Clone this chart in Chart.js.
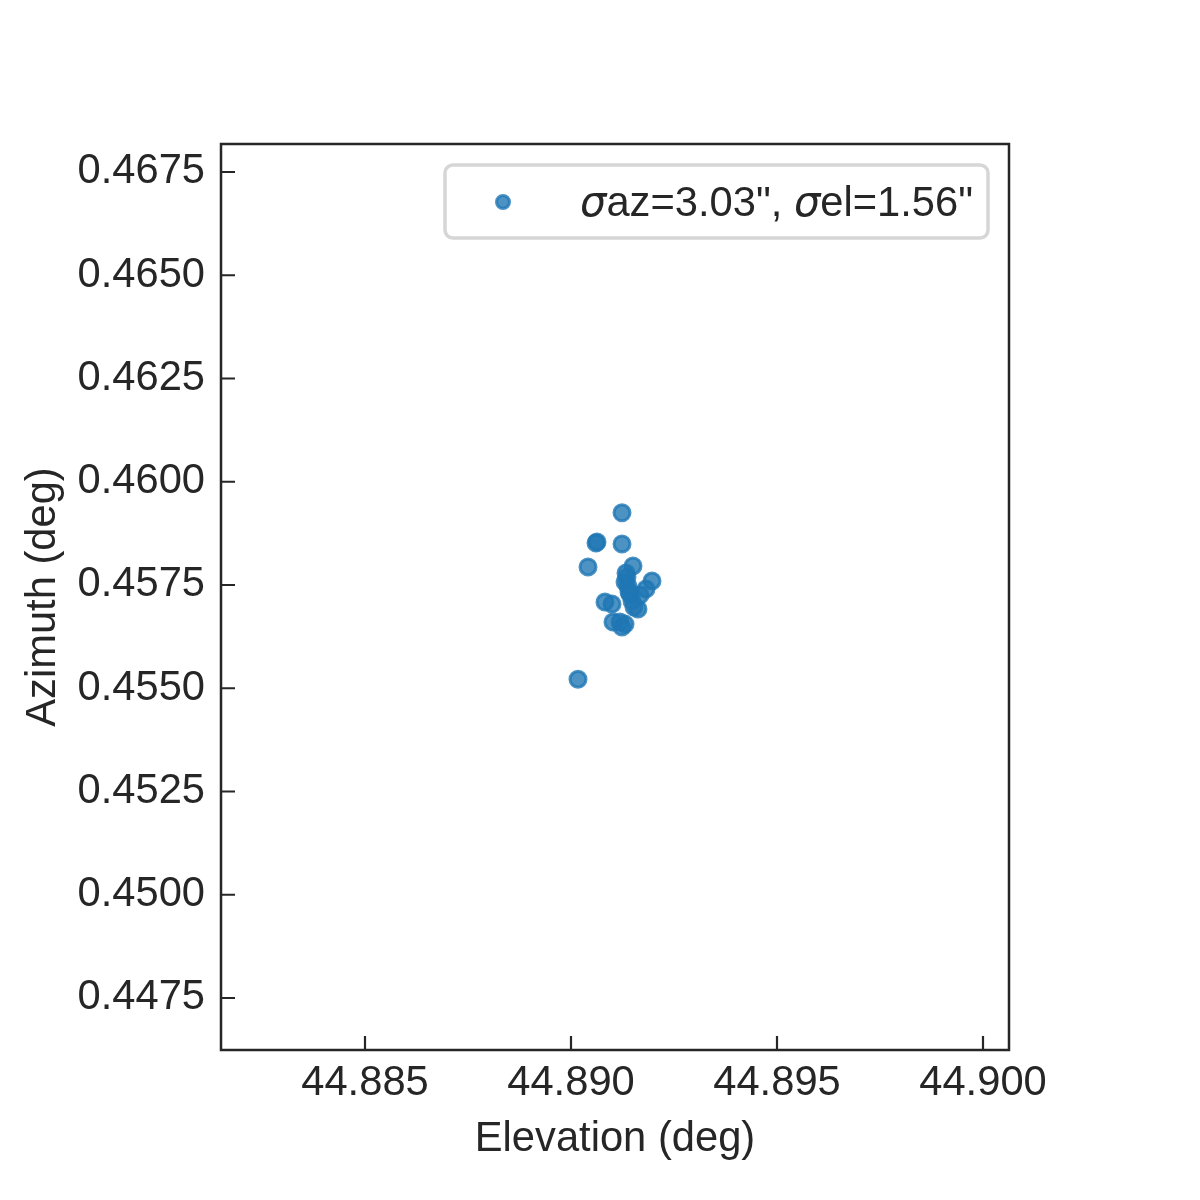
<!DOCTYPE html>
<html><head><meta charset="utf-8">
<script src="https://cdn.jsdelivr.net/npm/chart.js@4"></script>
<style>html,body{margin:0;padding:0;background:#fff}#wrap{width:1200px;height:1200px}</style>
</head><body><div id="wrap"><canvas id="c" width="1200" height="1200"></canvas></div>
<script>
// ---- data ----
const elevation = [44.891238, 44.890631, 44.890607, 44.891238, 44.890413, 44.890170, 44.891505,
  44.891335, 44.891359, 44.891311, 44.891383, 44.891966, 44.891820, 44.891675, 44.891432,
  44.891481, 44.890825, 44.890995, 44.891626, 44.891529, 44.891019, 44.891189, 44.891311,
  44.891238, 44.891408];
const azimuth = [0.459248, 0.458544, 0.458519, 0.458495, 0.457937, 0.455218, 0.457961,
  0.457791, 0.457694, 0.457573, 0.457476, 0.457597, 0.457403, 0.457257, 0.457282,
  0.457112, 0.457087, 0.457039, 0.456917, 0.456966, 0.456602, 0.456602, 0.456553,
  0.456481, 0.457330];
const xTicks = [44.885, 44.890, 44.895, 44.900];
const xTickLabels = ['44.885', '44.890', '44.895', '44.900'];
const yTicks = [0.4475, 0.4500, 0.4525, 0.4550, 0.4575, 0.4600, 0.4625, 0.4650, 0.4675];
const yTickLabels = ['0.4475', '0.4500', '0.4525', '0.4550', '0.4575', '0.4600', '0.4625', '0.4650', '0.4675'];
const xRange = [44.881505, 44.900631];
const yRange = [0.446241, 0.468178];
const legendParts = [['σ', true], ['az=3.03", ', false], ['σ', true], ['el=1.56"', false]];
const xTitle = 'Elevation (deg)';
const yTitle = 'Azimuth (deg)';

const INK = '#262626';
const FONT = 'Liberation Sans, Arial, sans-serif';
const FS = 41.7;

const frame = {
  id: 'frame',
  afterDatasetsDraw(chart) {
    const ctx = chart.ctx, a = chart.chartArea;
    ctx.save();
    ctx.strokeStyle = INK; ctx.lineWidth = 2.5;
    ctx.strokeRect(a.left, a.top, a.right - a.left, a.bottom - a.top);
    ctx.lineWidth = 2.2;
    const xs = chart.scales.x, ys = chart.scales.y;
    ctx.beginPath();
    xs.ticks.forEach(t => { const p = xs.getPixelForValue(t.value); ctx.moveTo(p, a.bottom); ctx.lineTo(p, a.bottom - 14); });
    ys.ticks.forEach(t => { const p = ys.getPixelForValue(t.value); ctx.moveTo(a.left, p); ctx.lineTo(a.left + 14, p); });
    ctx.stroke();
    // legend
    const bx = 445, by = 165, bw = 543, bh = 73, r = 8;
    ctx.beginPath();
    ctx.roundRect(bx, by, bw, bh, r);
    ctx.fillStyle = 'rgba(255,255,255,0.8)'; ctx.fill();
    ctx.strokeStyle = 'rgba(204,204,204,0.8)'; ctx.lineWidth = 3.5; ctx.stroke();
    ctx.beginPath(); ctx.arc(503, 202, 6.5, 0, Math.PI * 2);
    ctx.fillStyle = 'rgba(31,119,180,0.8)'; ctx.fill();
    ctx.strokeStyle = 'rgba(31,119,180,0.8)'; ctx.lineWidth = 3; ctx.stroke();
    ctx.fillStyle = INK; ctx.textBaseline = 'alphabetic'; ctx.textAlign = 'left';
    let x = 580;
    legendParts.forEach(([s, it]) => {
      ctx.font = it ? `oblique ${FS}px DejaVu Sans` : `${FS}px ${FONT}`;
      ctx.fillText(s, x, 216);
      x += ctx.measureText(s).width;
    });
    ctx.restore();
  }
};

new Chart(document.getElementById('c'), {
  type: 'scatter',
  data: { datasets: [{
    label: 'points',
    data: elevation.map((e, i) => ({ x: e, y: azimuth[i] })),
    backgroundColor: 'rgba(31,119,180,0.8)',
    borderColor: 'rgba(31,119,180,0.8)',
    borderWidth: 3,
    pointRadius: 8,
    pointHoverRadius: 8
  }]},
  options: {
    responsive: false, animation: false, devicePixelRatio: 1,
    layout: { padding: { top: 144, right: 191, left: 0, bottom: 0 } },
    plugins: { legend: { display: false }, tooltip: { enabled: false } },
    scales: {
      x: {
        type: 'linear', min: xRange[0], max: xRange[1],
        afterFit: s => { s.height = 150; },
        afterBuildTicks: s => { s.ticks = xTicks.map(v => ({ value: v })); },
        ticks: { callback: (v) => xTickLabels[xTicks.indexOf(v)] ?? '', color: INK, font: { family: FONT, size: FS }, padding: 8, maxRotation: 0, autoSkip: false },
        grid: { display: false, drawTicks: false },
        border: { display: false },
        title: { display: true, text: xTitle, color: INK, font: { family: FONT, size: FS }, padding: { top: 0, bottom: 35 } }
      },
      y: {
        type: 'linear', min: yRange[0], max: yRange[1],
        afterFit: s => { s.width = 221; },
        afterBuildTicks: s => { s.ticks = yTicks.map(v => ({ value: v })); },
        ticks: { callback: (v) => yTickLabels[yTicks.indexOf(v)] ?? '', color: INK, font: { family: FONT, size: FS }, padding: 16, autoSkip: false },
        grid: { display: false, drawTicks: false },
        border: { display: false },
        title: { display: true, text: yTitle, color: INK, font: { family: FONT, size: FS }, padding: { top: 18, bottom: 0 } }
      }
    }
  },
  plugins: [frame]
});
</script></body></html>
